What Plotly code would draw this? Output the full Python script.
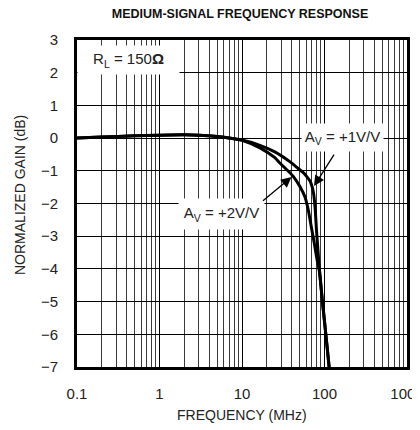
import plotly.graph_objects as go

# ---- data ----
freq_av1 = [0.1, 0.2, 0.5, 1, 2, 3, 5, 8, 10, 16.5, 25, 38, 48, 55, 62, 67, 71, 74, 77, 80.4, 86, 94, 103.5, 113.4, 120]
gain_av1 = [0.0, 0.03, 0.07, 0.09, 0.1, 0.09, 0.05, -0.02, -0.06, -0.22, -0.42, -0.72, -0.93, -1.05, -1.2, -1.32, -1.5, -1.72, -2.15, -2.9, -3.9, -4.95, -5.97, -6.97, -7.6]

freq_av2 = [0.1, 0.2, 0.5, 1, 2, 3, 5, 8, 10, 16.5, 25, 29, 36, 42, 50.5, 58, 63.6, 69, 75, 81, 87, 94, 103.5, 113.4, 120]
gain_av2 = [0.0, 0.03, 0.07, 0.09, 0.1, 0.09, 0.05, -0.02, -0.07, -0.3, -0.6, -0.77, -1.0, -1.18, -1.49, -1.8, -2.2, -2.7, -3.2, -3.7, -4.1, -4.95, -5.97, -6.97, -7.6]

x_tickvals = [0.1, 1, 10, 100, 1000]
x_ticktext = ["0.1", "1", "10", "100", "1000"]
y_tickvals = [-7, -6, -5, -4, -3, -2, -1, 0, 1, 2, 3]
x_minor = [d * 10 ** k for k in range(-1, 3) for d in range(2, 10)]

FONT = "Liberation Sans, Arial, sans-serif"
TXT = "#222"

# page body has an 8px default margin; the figure is sized/shifted to compensate
W, H = 412, 422
OFF = 8
L, T = 77 - OFF, 40 - OFF
PW, PH = 330, 327

fig = go.Figure()
for fx, gy, name in [(freq_av1, gain_av1, "AV=+1V/V"), (freq_av2, gain_av2, "AV=+2V/V")]:
    fig.add_trace(go.Scatter(x=fx, y=gy, mode="lines", name=name,
                             line=dict(color="black", width=3, shape="spline", smoothing=0.6),
                             showlegend=False))

fig.update_layout(
    width=W, height=H,
    margin=dict(l=L, r=W - L - PW, t=T, b=H - T - PH, pad=0, autoexpand=False),
    paper_bgcolor="white", plot_bgcolor="white",
    font=dict(family=FONT, size=15, color=TXT),
    title=dict(text="<b>MEDIUM-SIGNAL FREQUENCY RESPONSE</b>", x=(240 - OFF) / W, xanchor="center",
               xref="container", yref="container",
               y=1 - 1 / H, yanchor="top", font=dict(size=12.5, color="#111", family=FONT)),
)

fig.update_xaxes(
    type="log", range=[-1, 3], automargin=False,
    tickmode="array", tickvals=x_tickvals, ticktext=x_ticktext,
    showgrid=True, gridcolor="black", gridwidth=1,
    minor=dict(tickmode="array", tickvals=x_minor, showgrid=True, gridcolor="#3a3a3a", gridwidth=1, ticks=""),
    showline=True, linecolor="black", linewidth=3, mirror=True,
    ticks="", ticklabelstandoff=11, zeroline=False, ticklabeloverflow="allow",
    tickfont=dict(size=15, color=TXT),
)
fig.update_yaxes(
    range=[-7, 3], automargin=False, tickmode="array", tickvals=y_tickvals,
    showgrid=True, gridcolor="black", gridwidth=1,
    showline=True, linecolor="black", linewidth=3, mirror=True,
    ticks="", ticklabelstandoff=13, zeroline=False,
    tickfont=dict(size=15, color=TXT),
)


def lx(px):
    return (px - 77) / 82.5 - 1


def ly(py):
    return (138 - py) / 32.7


def paper_x(px):
    return (px - 77) / PW


def paper_y(py):
    return (367 - py) / PH


# axis titles
fig.add_annotation(x=paper_x(242.5), y=paper_y(415), xref="paper", yref="paper", showarrow=False,
                   text="FREQUENCY (MHz)", font=dict(size=14, color=TXT), xanchor="center", yanchor="middle")
fig.add_annotation(x=paper_x(20), y=paper_y(195), xref="paper", yref="paper", showarrow=False,
                   text="NORMALIZED GAIN (dB)", textangle=-90, font=dict(size=14, color=TXT),
                   xanchor="center", yanchor="middle")

# labels with white boxes
fig.add_annotation(x=lx(128.5), y=ly(60), xref="x", yref="y", showarrow=False,
                   text="R<sub>L</sub> = 150<b>Ω</b>", bgcolor="white", width=99, height=26,
                   font=dict(size=15, color=TXT))
fig.add_annotation(x=lx(342.5), y=ly(137.5), xref="x", yref="y", showarrow=False,
                   text="A<sub>V</sub> = +1V/V", bgcolor="white", width=79, height=25,
                   font=dict(size=15, color=TXT))
fig.add_annotation(x=lx(221.5), y=ly(213.5), xref="x", yref="y", showarrow=False,
                   text="A<sub>V</sub> = +2V/V", bgcolor="white", width=83, height=28,
                   font=dict(size=15, color=TXT))

# arrows
fig.add_annotation(x=lx(314), y=ly(186), xref="x", yref="y", text="", showarrow=True,
                   ax=21, ay=-33, arrowhead=2, arrowsize=1.6, arrowwidth=1.3, arrowcolor="black", standoff=0)
fig.add_annotation(x=lx(291.5), y=ly(177), xref="x", yref="y", text="", showarrow=True,
                   ax=-30, ay=25, arrowhead=2, arrowsize=1.6, arrowwidth=1.3, arrowcolor="black", standoff=0)

# side id text
fig.add_annotation(x=paper_x(414.5), y=paper_y(72), xref="paper", yref="paper", showarrow=False,
                   text="MAX4356 toc02", textangle=-90, font=dict(size=8, color="#444"),
                   xanchor="center", yanchor="middle", borderpad=0)

fig.write_html("out.html")
